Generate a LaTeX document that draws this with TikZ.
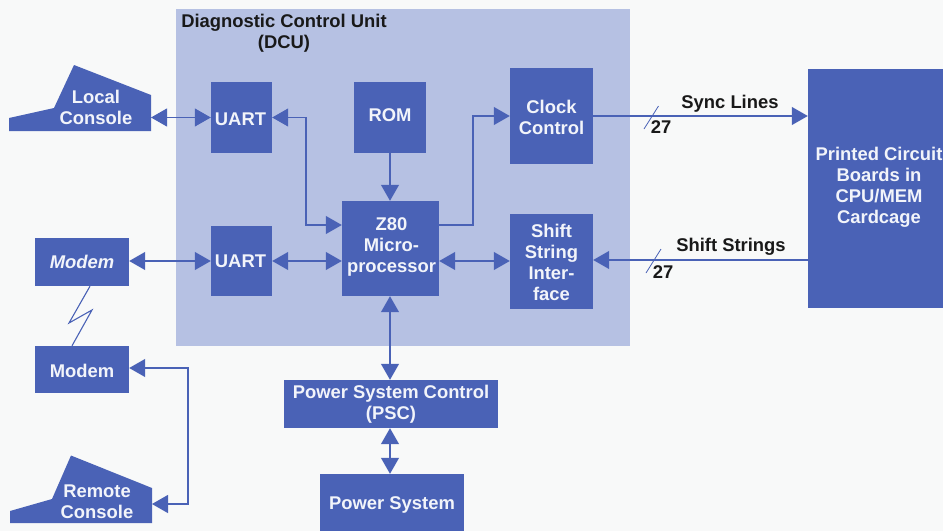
\documentclass[tikz,border=0pt]{standalone}
\usepackage{fontspec}
\setmainfont{Liberation Sans}
\usetikzlibrary{arrows.meta}
\definecolor{paper}{HTML}{F8F9F9}
\definecolor{panel}{HTML}{B6C1E3}
\definecolor{boxblue}{HTML}{4A62B6}
\definecolor{boxtext}{HTML}{F2F4FA}
\tikzset{
  every node/.style={font=\fontsize{18.4}{21}\selectfont\bfseries},
  every label/.style={text=boxtext,inner sep=0pt,align=center},
  blk/.style={fill=boxblue,inner sep=0pt},
  lbl/.style={text=black!90,inner sep=0pt,align=center},
  wire/.style={draw=boxblue,line width=1.1pt},
  tip/.tip={Triangle[length=16pt,width=18pt]},
  one/.style={wire,-{tip}},
  both/.style={wire,{tip}-{tip}},
}
\begin{document}
\begin{tikzpicture}[x=1pt,y=-1pt]
\useasboundingbox (0,0) rectangle (943,531);
\fill[paper] (0,0) rectangle (943,531);
\fill[panel] (176,9) rectangle (630,346);
% consoles
\fill[boxblue] (9,131) -- (9,118) -- (54,108) -- (74,65) -- (151,95) -- (151,131) -- cycle;
\fill[boxblue] (10,523) -- (10,511) -- (52,499) -- (71,455.5) -- (152,488) -- (152,523) -- cycle;
\node[text=boxtext,inner sep=0pt,align=center] (local) at (96,107.5) {Local\\Console};
\node[text=boxtext,inner sep=0pt,align=center] (remote) at (97,502) {Remote\\Console};
\coordinate (localE) at (151,117.5);
\coordinate (remoteE) at (152,504);
% blocks
\node[blk,minimum width=61pt,minimum height=71pt,label={[yshift=-1.5pt,xshift=-1pt]center:UART}] (uartA) at (241.5,117.5) {};
\node[blk,minimum width=72pt,minimum height=71pt,label={[yshift=2pt]center:ROM}] (rom) at (390,117.5) {};
\node[blk,minimum width=97pt,minimum height=95pt,label={[yshift=1.5pt,xshift=1pt]center:Z80\\Micro-\\processor}] (z80) at (390.5,248.5) {};
\node[blk,minimum width=61pt,minimum height=70pt,label={[xshift=-1pt]center:UART}] (uartB) at (241.5,261) {};
\node[blk,minimum width=83pt,minimum height=96pt,label={[yshift=-1pt]center:Clock\\Control}] (clock) at (551.5,116) {};
\node[blk,minimum width=83pt,minimum height=95pt,label={[yshift=-1pt]center:Shift\\String\\Inter-\\face}] (shift) at (551.5,261.5) {};
\node[blk,minimum width=135pt,minimum height=239pt,label={[yshift=1pt,xshift=3.5pt]center:Printed Circuit\\Boards in\\CPU/MEM\\Cardcage}] (pcb) at (875.5,188.5) {};
\node[blk,minimum width=94pt,minimum height=48pt,label={center:\itshape Modem}] (modemA) at (82,262) {};
\node[blk,minimum width=94pt,minimum height=47pt,label={[yshift=-1pt]center:Modem}] (modemB) at (82,369.5) {};
\node[blk,minimum width=214pt,minimum height=48pt,label={center:Power System Control\\(PSC)}] (psc) at (391,404) {};
\node[blk,minimum width=144pt,minimum height=57pt,label={[yshift=-2pt]center:Power System}] (power) at (392,502.5) {};
% labels
\node[lbl] (title) at (284,33) {Diagnostic Control Unit\\(DCU)};
\node[lbl] (sync) at (730,103.5) {Sync Lines};
\node[lbl] (shiftl) at (731,247) {Shift Strings};
\node[lbl] (nA) at (661,127.5) {27};
\node[lbl] (nB) at (663,272.5) {27};
% connectors
\draw[both] (localE) -- (uartA.west);
\draw[both] (uartA.east) -- (306,117.5) -- (306,225) -- ([yshift=23.5pt]z80.west);
\draw[one] (rom.south) -- ([xshift=-.5pt]z80.north);
\draw[one] ([yshift=23.5pt]z80.east) -- (473,225) -- (473,116) -- (clock.west);
\draw[one] (clock.east) -- ([yshift=72.5pt]pcb.west);
\draw[one] ([yshift=-71.5pt]pcb.west) -- ([yshift=1.5pt]shift.east);
\draw[both] ([yshift=1pt]modemA.east) -- (uartB.west);
\draw[both] (uartB.east) -- ([yshift=-12.5pt]z80.west);
\draw[both] ([yshift=-12.5pt]z80.east) -- ([yshift=.5pt]shift.west);
\draw[both] ([xshift=-.5pt]z80.south) -- ([xshift=-1pt]psc.north);
\draw[both] ([xshift=-1pt]psc.south) -- ([xshift=-2pt]power.north);
\draw[wire] ([xshift=8pt]modemA.south) -- (69,323) -- (92,310) -- ([xshift=-10pt]modemB.north);
\draw[both] ([yshift=1.5pt]modemB.east) -- (188,368) -- (188,504) -- (remoteE);
% bus slashes
\draw[draw=boxblue,line width=.8pt] (644,129) -- (658.5,106);
\draw[draw=boxblue,line width=.8pt] (646,273) -- (661,249);
\end{tikzpicture}
\end{document}
